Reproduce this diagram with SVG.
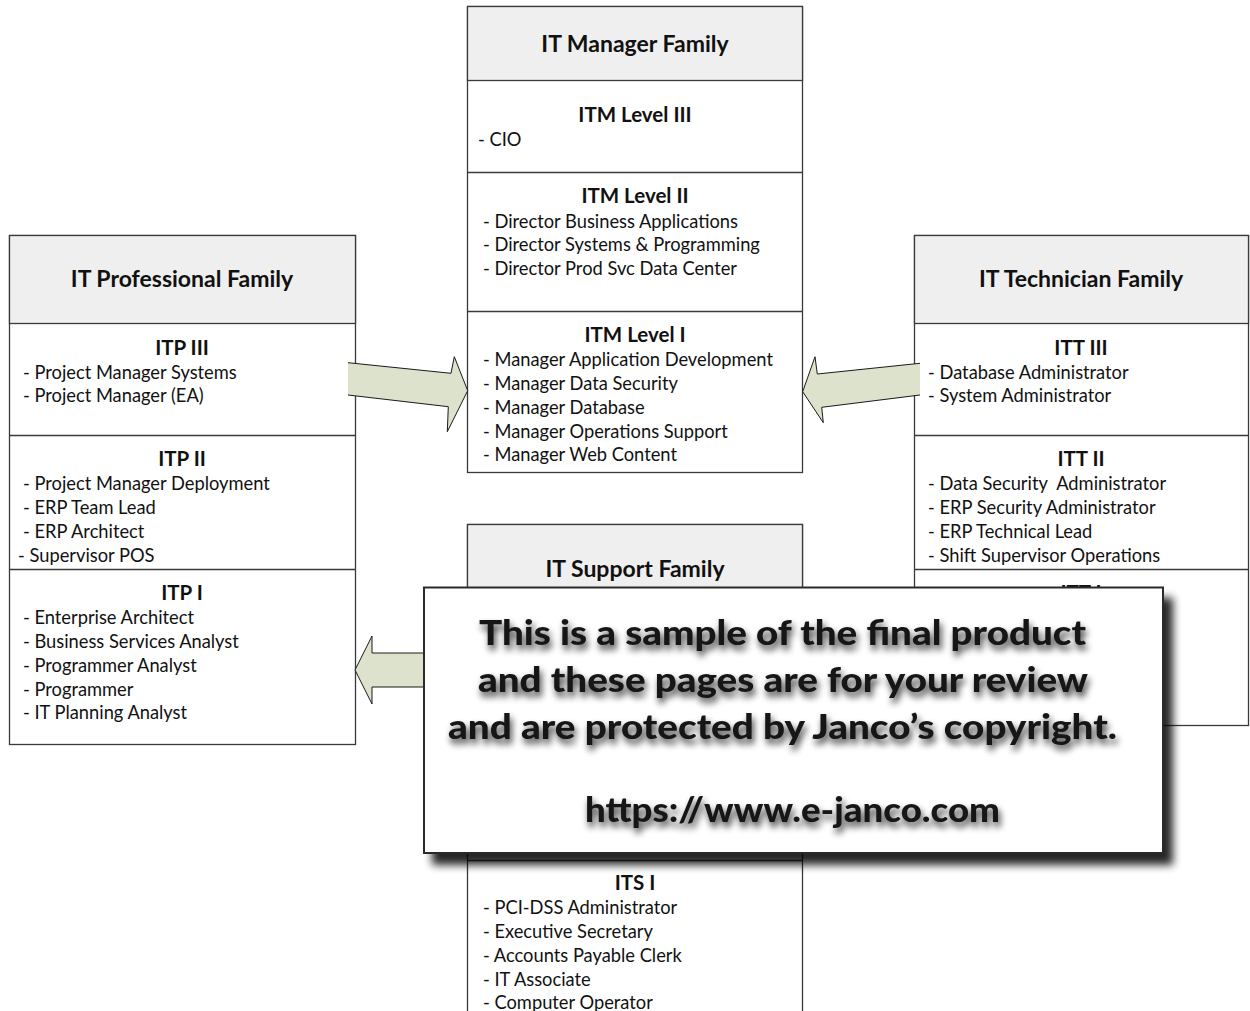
<svg xmlns="http://www.w3.org/2000/svg" width="1250" height="1011" viewBox="0 0 1250 1011">
<style>
.box{fill:#ffffff;stroke:#3a3a3a;stroke-width:1.3}
.hdr{fill:#efefef;stroke:#3a3a3a;stroke-width:1.3}
.sep{stroke:#3a3a3a;stroke-width:1.3;fill:none}
.ht{font-family:Lato,"Liberation Sans",sans-serif;font-weight:700;font-size:23px;fill:#111;text-anchor:middle}
.lt{font-family:Lato,"Liberation Sans",sans-serif;font-weight:700;font-size:20.5px;fill:#111;text-anchor:middle}
.bt{font-family:Lato,"Liberation Sans",sans-serif;font-size:18.3px;fill:#111}
.afill{fill:#dce2cb;stroke:none}
.aline{fill:none;stroke:#1a1a1a;stroke-width:1;stroke-linejoin:miter}
.wm{font-family:Lato,"Open Sans",sans-serif;font-weight:900;font-size:34px;fill:#151515;text-anchor:middle}
</style>
<defs>
<filter id="boxShadow" x="-10%" y="-10%" width="130%" height="130%">
<feGaussianBlur in="SourceAlpha" stdDeviation="4"/>
<feOffset dx="9" dy="11" result="b"/>
<feComponentTransfer><feFuncA type="linear" slope="0.85"/></feComponentTransfer>
<feMerge><feMergeNode/><feMergeNode in="SourceGraphic"/></feMerge>
</filter>
<filter id="txtShadow" x="-10%" y="-40%" width="120%" height="180%">
<feGaussianBlur in="SourceAlpha" stdDeviation="3.5"/>
<feOffset dx="2" dy="5" result="b"/>
<feComponentTransfer><feFuncA type="linear" slope="0.8"/></feComponentTransfer>
<feMerge><feMergeNode/><feMergeNode in="SourceGraphic"/></feMerge>
</filter>
</defs>
<rect width="1250" height="1011" fill="#ffffff"/>

<g id="it-manager-family">
<rect class="box" x="467.5" y="6.5" width="335" height="466"/>
<rect class="hdr" x="467.5" y="6.5" width="335" height="74"/>
<line class="sep" x1="467.5" y1="172.5" x2="802.5" y2="172.5"/>
<line class="sep" x1="467.5" y1="311.5" x2="802.5" y2="311.5"/>
<text class="ht" x="635" y="52">IT Manager Family</text>
<text class="lt" x="635" y="122">ITM Level III</text>
<text class="bt" x="478" y="146">- CIO</text>
<text class="lt" x="635" y="203">ITM Level II</text>
<text class="bt" x="483" y="228">- Director Business Applications</text>
<text class="bt" x="483" y="251">- Director Systems &amp; Programming</text>
<text class="bt" x="483" y="275">- Director Prod Svc Data Center</text>
<text class="lt" x="635" y="342">ITM Level I</text>
<text class="bt" x="483" y="366">- Manager Application Development</text>
<text class="bt" x="483" y="390">- Manager Data Security</text>
<text class="bt" x="483" y="414">- Manager Database</text>
<text class="bt" x="483" y="438">- Manager Operations Support</text>
<text class="bt" x="483" y="461">- Manager Web Content</text>
</g>

<g id="it-professional-family">
<rect class="box" x="9.5" y="235.5" width="346" height="509"/>
<rect class="hdr" x="9.5" y="235.5" width="346" height="88"/>
<line class="sep" x1="9.5" y1="435.5" x2="355.5" y2="435.5"/>
<line class="sep" x1="9.5" y1="569.5" x2="355.5" y2="569.5"/>
<text class="ht" x="182" y="287">IT Professional Family</text>
<text class="lt" x="182" y="355">ITP III</text>
<text class="bt" x="23" y="379">- Project Manager Systems</text>
<text class="bt" x="23" y="402">- Project Manager (EA)</text>
<text class="lt" x="182" y="466">ITP II</text>
<text class="bt" x="23" y="490">- Project Manager Deployment</text>
<text class="bt" x="23" y="514">- ERP Team Lead</text>
<text class="bt" x="23" y="538">- ERP Architect</text>
<text class="bt" x="18" y="562">- Supervisor POS</text>
<text class="lt" x="182" y="600">ITP I</text>
<text class="bt" x="23" y="624">- Enterprise Architect</text>
<text class="bt" x="23" y="648">- Business Services Analyst</text>
<text class="bt" x="23" y="672">- Programmer Analyst</text>
<text class="bt" x="23" y="696">- Programmer</text>
<text class="bt" x="23" y="719">- IT Planning Analyst</text>
</g>

<g id="it-technician-family">
<rect class="box" x="914.5" y="235.5" width="334" height="490"/>
<rect class="hdr" x="914.5" y="235.5" width="334" height="88"/>
<line class="sep" x1="914.5" y1="435.5" x2="1248.5" y2="435.5"/>
<line class="sep" x1="914.5" y1="569.5" x2="1248.5" y2="569.5"/>
<text class="ht" x="1081" y="287">IT Technician Family</text>
<text class="lt" x="1081" y="355">ITT III</text>
<text class="bt" x="928" y="379">- Database Administrator</text>
<text class="bt" x="928" y="402">- System Administrator</text>
<text class="lt" x="1081" y="466">ITT II</text>
<text class="bt" x="928" y="490" xml:space="preserve">- Data Security  Administrator</text>
<text class="bt" x="928" y="514">- ERP Security Administrator</text>
<text class="bt" x="928" y="538">- ERP Technical Lead</text>
<text class="bt" x="928" y="562">- Shift Supervisor Operations</text>
<text class="lt" x="1081" y="600">ITT I</text>
</g>

<g id="it-support-family">
<rect class="box" x="467.5" y="524.5" width="335" height="500"/>
<rect class="hdr" x="467.5" y="524.5" width="335" height="88"/>
<line class="sep" x1="467.5" y1="860.5" x2="802.5" y2="860.5"/>
<text class="ht" x="635" y="577">IT Support Family</text>
<text class="lt" x="635" y="890">ITS I</text>
<text class="bt" x="483" y="914">- PCI-DSS Administrator</text>
<text class="bt" x="483" y="938">- Executive Secretary</text>
<text class="bt" x="483" y="962">- Accounts Payable Clerk</text>
<text class="bt" x="483" y="986">- IT Associate</text>
<text class="bt" x="483" y="1009">- Computer Operator</text>
</g>

<g id="connectors">
<polygon class="afill" points="348,362.7 451,373.3 454.3,356.7 467.7,390.7 447.3,431.7 448.3,406.7 348,395"/>
<polyline class="aline" points="348,362.7 451,373.3 454.3,356.7 467.7,390.7 447.3,431.7 448.3,406.7 348,395"/>
<polygon class="afill" points="920,363.3 817.3,374 815,356.7 802.7,391.7 823.3,422.7 821.7,407.3 920,395"/>
<polyline class="aline" points="920,363.3 817.3,374 815,356.7 802.7,391.7 823.3,422.7 821.7,407.3 920,395"/>
<polygon class="afill" points="470,653 372,653 372,636 355,670 372,704 372,687 470,687"/>
<polyline class="aline" points="470,653 372,653 372,636 355,670 372,704 372,687 470,687"/>
</g>

<g id="watermark">
<rect x="424" y="587.5" width="739" height="265.5" fill="#ffffff" stroke="#2a2a2a" stroke-width="2" filter="url(#boxShadow)"/>
<g filter="url(#txtShadow)">
<text class="wm" x="782.5" y="645" textLength="607" lengthAdjust="spacingAndGlyphs">This is a sample of the final product</text>
<text class="wm" x="783" y="692" textLength="610" lengthAdjust="spacingAndGlyphs">and these pages are for your review</text>
<text class="wm" x="782.5" y="739" textLength="669" lengthAdjust="spacingAndGlyphs">and are protected by Janco’s copyright.</text>
<text class="wm" x="792.5" y="822" textLength="415" lengthAdjust="spacingAndGlyphs">https://www.e-janco.com</text>
</g>
</g>
</svg>
